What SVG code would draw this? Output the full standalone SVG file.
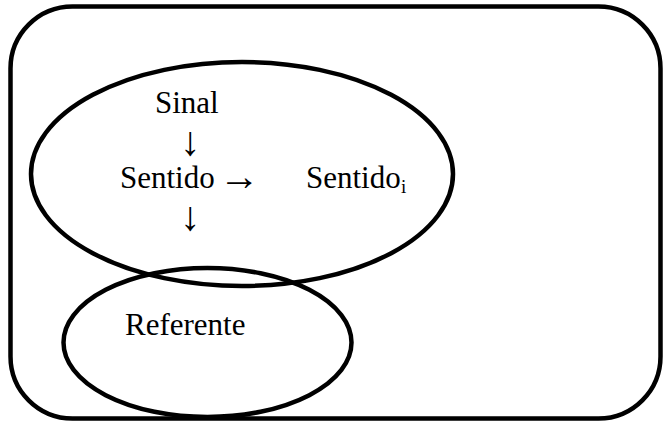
<svg xmlns="http://www.w3.org/2000/svg" width="664" height="421" viewBox="0 0 664 421">
<style>
.s{fill:none;stroke:#000;stroke-width:4.5}
.t{font-family:'Liberation Serif','Times New Roman',serif;font-size:31px;fill:#000}
.a{font-family:'Liberation Serif','Times New Roman',serif;font-size:41px;fill:#000}
.sub{font-size:19px}
</style>
<rect width="664" height="421" fill="#fff"/>
<rect id="frame" class="s" x="10.5" y="6.5" width="650" height="412" rx="62" ry="62"/>
<g id="sentido-ellipse">
<ellipse class="s" cx="242" cy="174" rx="211" ry="112"/>
<text class="t" x="155" y="113">Sinal</text>
<text class="a" x="180" y="155">↓</text>
<text class="t" x="120" y="188">Sentido</text>
<text class="a" x="219" y="190">→</text>
<text class="t" x="306" y="188">Sentido</text>
<text class="t sub" x="401" y="193">i</text>
<text class="a" x="180" y="230">↓</text>
</g>
<g id="referente-ellipse">
<ellipse class="s" cx="207.5" cy="342.5" rx="144" ry="74.5"/>
<text class="t" x="125" y="335">Referente</text>
</g>
<g id="connectors"></g>
</svg>
